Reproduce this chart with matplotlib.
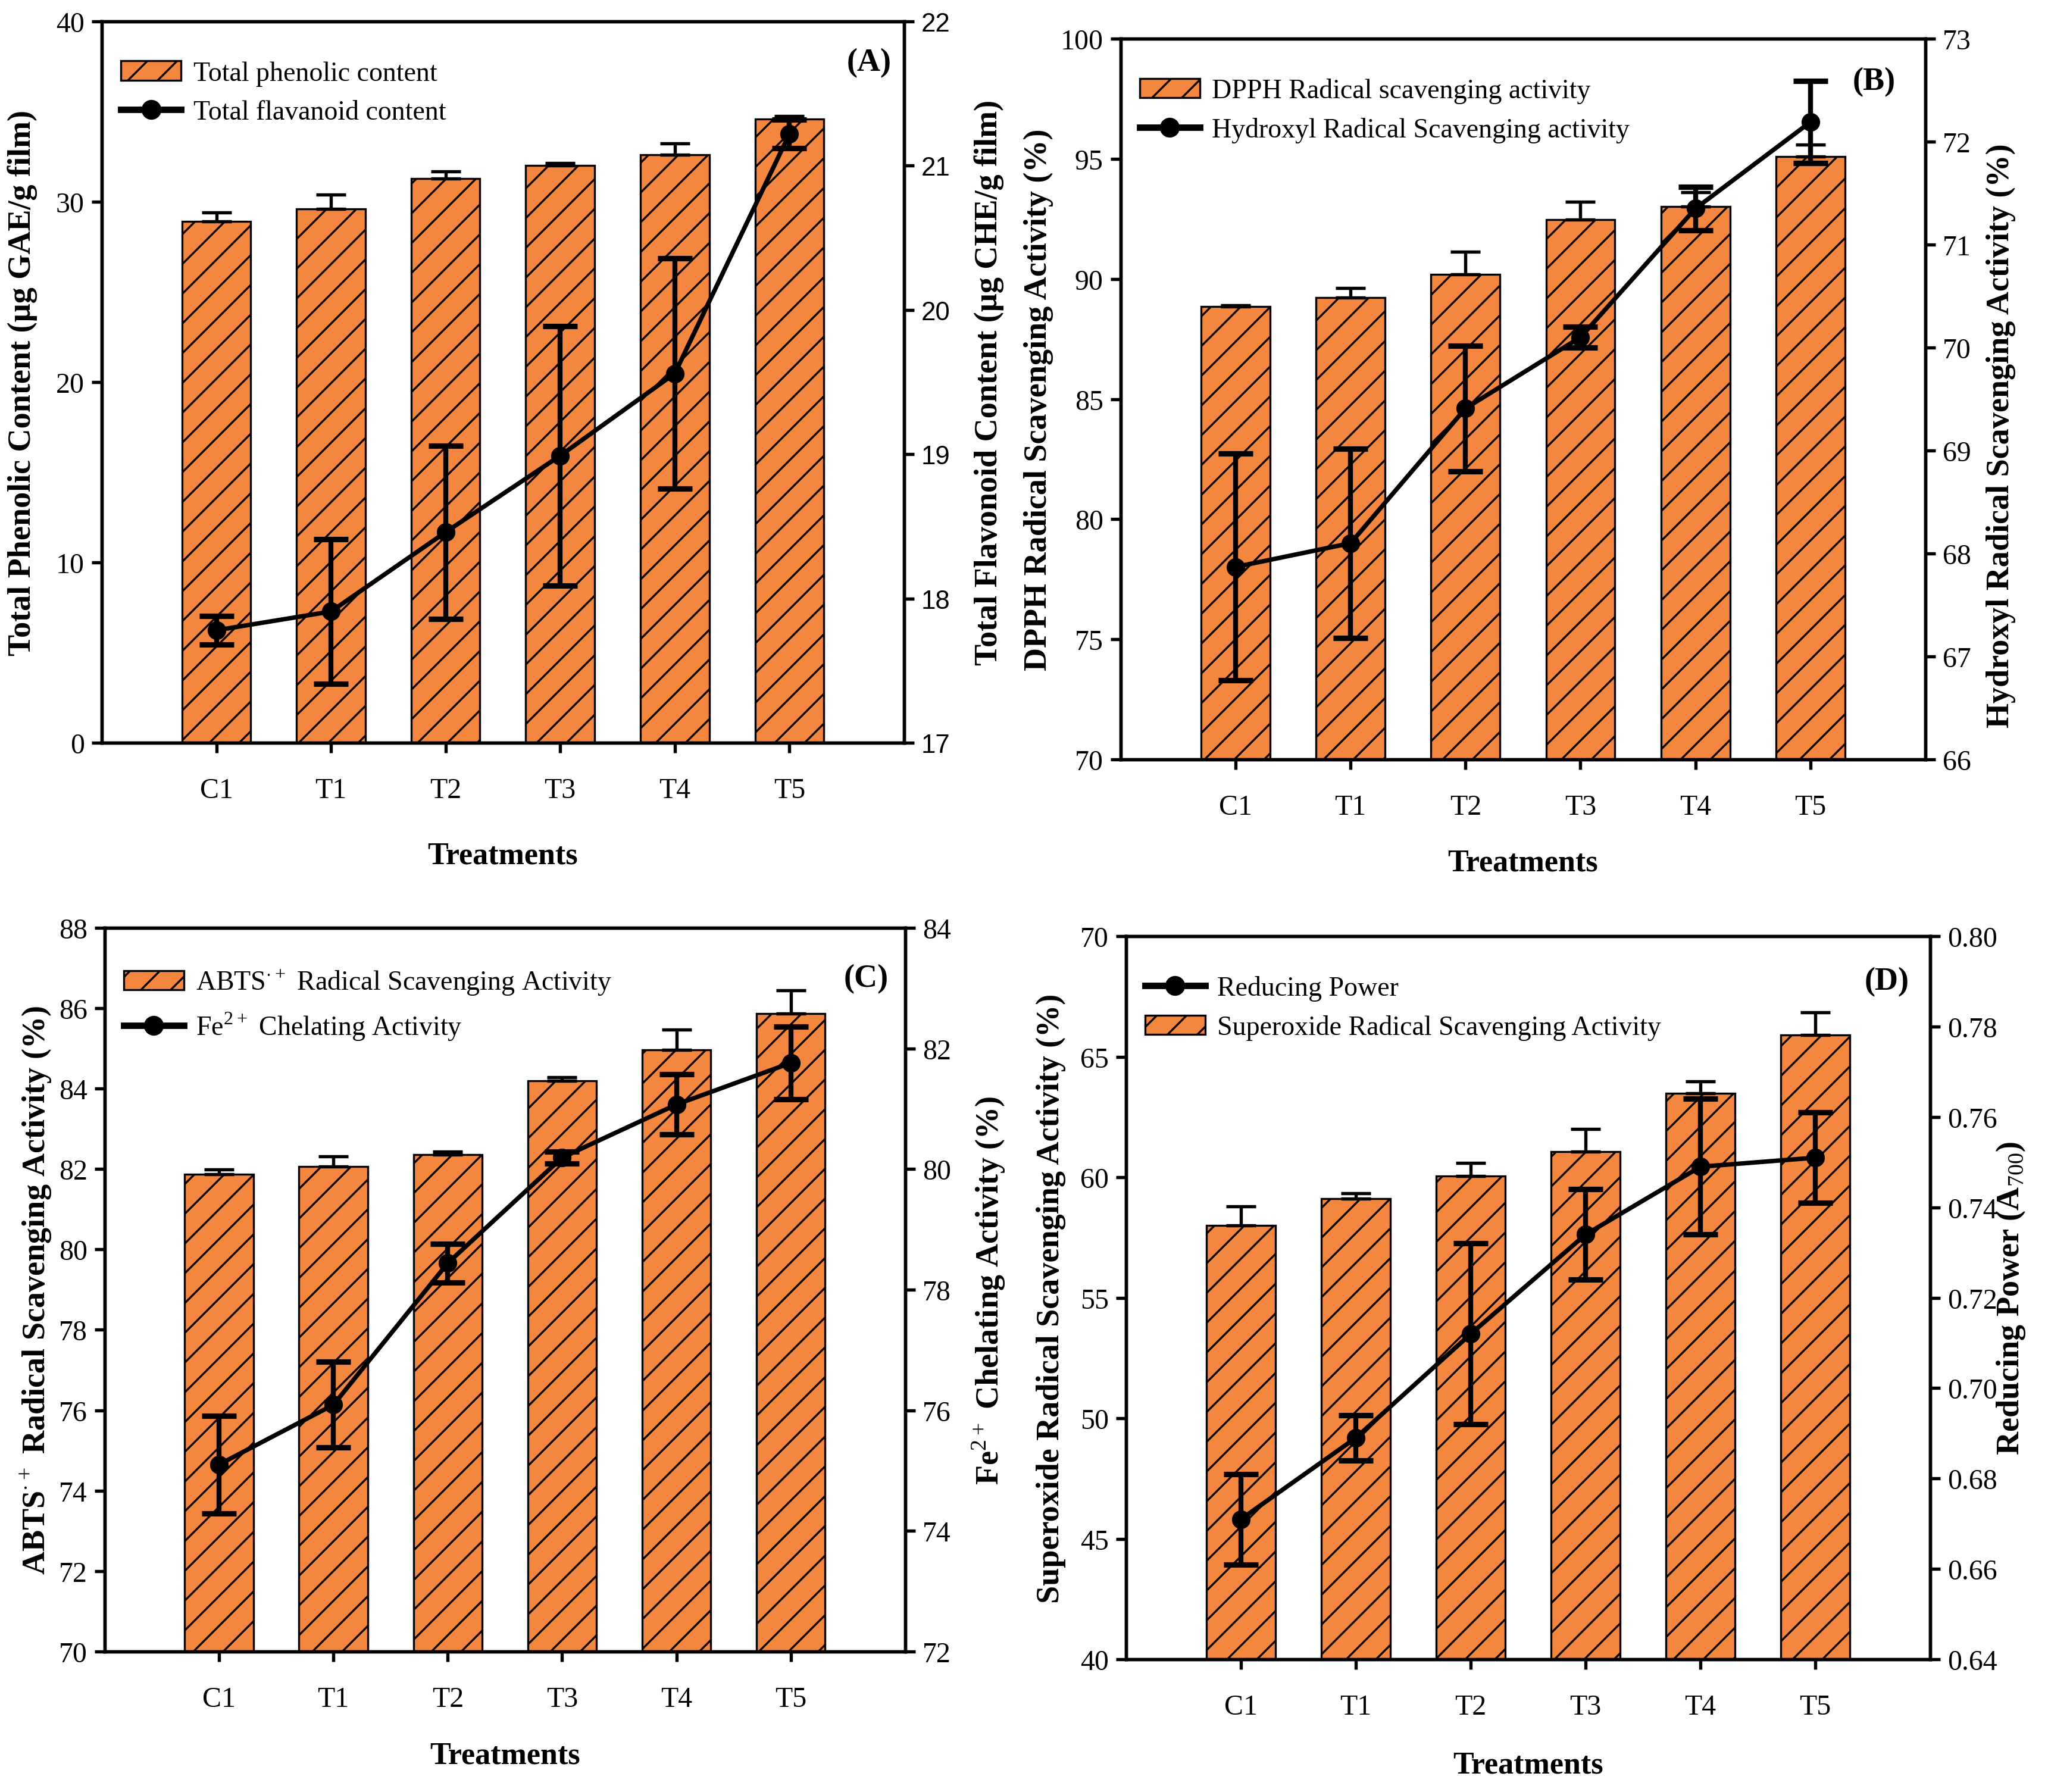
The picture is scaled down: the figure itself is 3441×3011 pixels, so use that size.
import matplotlib
matplotlib.use('Agg')
import matplotlib.pyplot as plt
from matplotlib.lines import Line2D
import numpy as np

plt.rcParams['font.family'] = ['Liberation Serif', 'DejaVu Serif']
plt.rcParams['mathtext.fontset'] = 'custom'
plt.rcParams['mathtext.rm'] = 'Liberation Serif'
plt.rcParams['mathtext.bf'] = 'Liberation Serif:bold'
plt.rcParams['hatch.linewidth'] = 0.8

categories = ['C1', 'T1', 'T2', 'T3', 'T4', 'T5']

# (A) phenolic / flavonoid
tpc = [28.9, 29.6, 31.3, 32.0, 32.6, 34.6]
tpc_err = [0.5, 0.8, 0.4, 0.15, 0.65, 0.15]
tfc = [17.78, 17.91, 18.46, 18.99, 19.56, 21.22]
tfc_err = [0.1, 0.5, 0.6, 0.9, 0.8, 0.1]

# (B) DPPH / hydroxyl
dpph = [88.86, 89.22, 90.19, 92.46, 93.02, 95.1]
dpph_err = [0.05, 0.4, 0.95, 0.75, 0.6, 0.5]
hydroxyl = [67.87, 68.10, 69.41, 70.10, 71.35, 72.19]
hydroxyl_err = [1.1, 0.92, 0.61, 0.1, 0.21, 0.4]

# (C) ABTS / Fe2+ chelating
abts = [81.87, 82.07, 82.36, 84.19, 84.97, 85.86]
abts_err = [0.12, 0.24, 0.07, 0.1, 0.5, 0.58]
fe = [75.10, 76.09, 78.44, 80.19, 81.07, 81.76]
fe_err = [0.81, 0.71, 0.32, 0.1, 0.5, 0.6]

# (D) superoxide / reducing power
superoxide = [58.0, 59.12, 60.05, 61.07, 63.48, 65.90]
superoxide_err = [0.79, 0.21, 0.55, 0.93, 0.5, 0.93]
reducing = [0.671, 0.689, 0.712, 0.734, 0.749, 0.751]
reducing_err = [0.010, 0.005, 0.020, 0.010, 0.015, 0.010]

orange = '#F4873F'
x = np.arange(len(categories))

fig = plt.figure(figsize=(3441 / 300, 3012 / 300), dpi=300)


def panel(rect, bars, bars_err, line, line_err, ylim1, yt1, ylim2, yt2,
          ylab1, ylab2, bar_lab, line_lab, tag, lab_x, r_lab_y=0.5, xlab_y=-0.15,
          line_first=False, right_sans=False, tag_pos=(0.985, 0.945), fmt2=None):
    ax = fig.add_axes(rect)
    ax2 = ax.twinx()
    b = ax.bar(x, [v - ylim1[0] for v in bars], 0.6, bottom=ylim1[0], color=orange,
               edgecolor='black', linewidth=0.8, hatch='//', zorder=2)
    ax.errorbar(x, bars, yerr=[np.zeros(len(bars)), bars_err], fmt='none',
                ecolor='black', elinewidth=1.3, capsize=6, capthick=1.3, zorder=3)
    ax2.errorbar(x, line, yerr=line_err, color='black', lw=1.8, marker='o',
                 ms=6.5, capsize=7, capthick=2.2, elinewidth=2.0)
    ax.set_xlim(-1, 6)
    ax.set_ylim(*ylim1)
    ax.set_yticks(yt1)
    ax2.set_ylim(*ylim2)
    ax2.set_yticks(yt2)
    if fmt2:
        ax2.yaxis.set_major_formatter(matplotlib.ticker.FormatStrFormatter(fmt2))
    ax.set_xticks(x)
    ax.set_xticklabels(categories)
    for a in (ax, ax2):
        for s in a.spines.values():
            s.set_linewidth(1.3)
    ax.tick_params(axis='x', direction='out', length=4, width=1.3, pad=10, labelsize=11.5)
    ax.tick_params(axis='y', direction='out', length=4, width=1.3, pad=3, labelsize=11.5)
    ax2.tick_params(axis='y', direction='out', length=4, width=1.3, pad=3, labelsize=11.5)
    if right_sans:
        for t in ax2.get_yticklabels():
            t.set_family('Liberation Sans')
            t.set_fontsize(10.5)
    ax.set_xlabel('Treatments', fontsize=12.5, fontweight='bold')
    ax.xaxis.label.set_va('center')
    ax.xaxis.set_label_coords(0.5, xlab_y)
    ax.set_ylabel(ylab1, fontsize=13, fontweight='bold')
    ax.yaxis.label.set_va('center')
    ax.yaxis.set_label_coords(lab_x[0], 0.5)
    ax2.set_ylabel(ylab2, fontsize=13, fontweight='bold')
    ax2.yaxis.label.set_va('center')
    ax2.yaxis.set_label_coords(lab_x[1], r_lab_y)

    line_handle = Line2D([], [], color='black', lw=2.6, marker='o', ms=7)
    if line_first:
        handles = [line_handle, b]
        labels = [line_lab, bar_lab]
    else:
        handles = [b, line_handle]
        labels = [bar_lab, line_lab]
    ax2.legend(handles, labels, loc='upper left', bbox_to_anchor=(0.0, 0.972),
               frameon=False, fontsize=11, handlelength=2.2, handletextpad=0.45,
               labelspacing=0.5, borderaxespad=0.3)
    ax2.text(tag_pos[0], tag_pos[1], tag, transform=ax2.transAxes, ha='right', va='center',
             fontsize=13, fontweight='bold')
    return ax, ax2


panel([0.0497, 0.5853, 0.3917, 0.4024], tpc, tpc_err, tfc, tfc_err,
      (0, 40), [0, 10, 20, 30, 40], (17, 22), [17, 18, 19, 20, 21, 22],
      'Total Phenolic Content (µg GAE/g film)', 'Total Flavonoid Content (µg CHE/g film)',
      'Total phenolic content', 'Total flavanoid content', '(A)', (-0.099, 1.106),
      xlab_y=-0.156, right_sans=True, tag_pos=(0.984, 0.943))

panel([0.5472, 0.5760, 0.3929, 0.4021], dpph, dpph_err, hydroxyl, hydroxyl_err,
      (70, 100), [70, 75, 80, 85, 90, 95, 100], (66, 73), [66, 67, 68, 69, 70, 71, 72, 73],
      'DPPH Radical Scavenging Activity (%)', 'Hydroxyl Radical Scavenging Activity (%)',
      'DPPH Radical scavenging activity', 'Hydroxyl Radical Scavenging activity', '(B)',
      (-0.102, 1.094), r_lab_y=0.45, xlab_y=-0.143, tag_pos=(0.963, 0.94))

panel([0.0511, 0.0784, 0.3909, 0.4037], abts, abts_err, fe, fe_err,
      (70, 88), [70, 72, 74, 76, 78, 80, 82, 84, 86, 88], (72, 84), [72, 74, 76, 78, 80, 82, 84],
      r'ABTS$^{\cdot+}$ Radical Scavenging Activity (%)', r'Fe$^{2+}$ Chelating Activity (%)',
      r'ABTS$^{\cdot+}$ Radical Scavenging Activity', r'Fe$^{2+}$ Chelating Activity', '(C)',
      (-0.086, 1.104), xlab_y=-0.144, tag_pos=(0.979, 0.93))

panel([0.5498, 0.0740, 0.3927, 0.4034], superoxide, superoxide_err, reducing, reducing_err,
      (40, 70), [40, 45, 50, 55, 60, 65, 70], (0.64, 0.80),
      [0.64, 0.66, 0.68, 0.70, 0.72, 0.74, 0.76, 0.78, 0.80],
      'Superoxide Radical Scavenging Activity (%)', r'Reducing Power (A$_{700}$)',
      'Superoxide Radical Scavenging Activity', 'Reducing Power', '(D)',
      (-0.093, 1.10), xlab_y=-0.146, line_first=True, tag_pos=(0.974, 0.937), fmt2='%.2f')

fig.savefig('out.png', dpi=300)
